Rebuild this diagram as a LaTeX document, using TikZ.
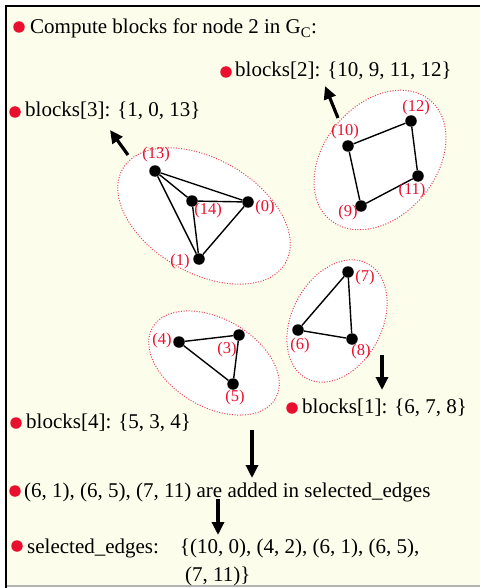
\documentclass[tikz,border=0pt]{standalone}
\usepackage{fontspec}
\setmainfont{Liberation Serif}
\usetikzlibrary{arrows.meta,shapes.geometric}
\definecolor{cfondo}{HTML}{FCFEEB}
\definecolor{crojo}{HTML}{E8102E}
\definecolor{cpunteo}{HTML}{E8405A}
\definecolor{cgris}{HTML}{B4B4B4}
\tikzset{
  grupo/.style={ellipse,draw=cpunteo,fill=white,line width=1pt,
                dash pattern=on 1pt off 1.6pt,inner sep=0pt},
  vertice/.style={circle,fill=black,inner sep=0pt,minimum size=11.5pt},
  arista/.style={line width=1.4pt,draw=black},
  etq/.style={text=crojo,font=\fontsize{16.5}{19}\selectfont,inner sep=0pt},
  vineta/.style={circle,fill=crojo,inner sep=0pt,minimum size=11.5pt},
  texto/.style={anchor=base west,inner sep=0pt,font=\fontsize{21}{25}\selectfont},
  flecha/.style={-{Triangle[length=13pt,width=12pt]},line width=3.2pt,draw=black},
}
\begin{document}
\begin{tikzpicture}[x=1pt,y=-1pt]

\useasboundingbox (0,0) rectangle (480,588);
\fill[white] (0,0) rectangle (480,588);
\fill[cfondo] (6,6) rectangle (480,585);
\draw[line width=2.5pt] (6,588) -- (6,6) -- (480,6);
\draw[cgris,line width=2pt] (7,586) -- (480,586);

\node[grupo,minimum width=188,minimum height=114,rotate=-30] (b3) at (204,216) {};
\node[grupo,minimum width=156,minimum height=112,rotate=50]  (b2) at (380,160) {};
\node[grupo,minimum width=130,minimum height=90,rotate=62]   (b1) at (337,321) {};
\node[grupo,minimum width=142,minimum height=88,rotate=-30]  (b4) at (214,363) {};

\node[vertice] (n13) at (155,171) {};
\node[vertice] (n14) at (192,201) {};
\node[vertice] (n0)  at (248,202) {};
\node[vertice] (n1)  at (199,259) {};
\node[vertice] (n10) at (348,146) {};
\node[vertice] (n12) at (411,121) {};
\node[vertice] (n11) at (418,176) {};
\node[vertice] (n9)  at (361,206) {};
\node[vertice] (n7)  at (348,272) {};
\node[vertice] (n6)  at (298,330) {};
\node[vertice] (n8)  at (352,339) {};
\node[vertice] (n4)  at (179,342) {};
\node[vertice] (n3)  at (239,335) {};
\node[vertice] (n5)  at (233,384) {};

\draw[arista] (n13) -- (n0);
\draw[arista] (n13) -- (n14);
\draw[arista] (n13) -- (n1);
\draw[arista] (n14) -- (n0);
\draw[arista] (n14) -- (n1);
\draw[arista] (n0) -- (n1);
\draw[arista] (n10) -- (n12);
\draw[arista] (n12) -- (n11);
\draw[arista] (n11) -- (n9);
\draw[arista] (n9) -- (n10);
\draw[arista] (n7) -- (n6);
\draw[arista] (n6) -- (n8);
\draw[arista] (n8) -- (n7);
\draw[arista] (n4) -- (n3);
\draw[arista] (n3) -- (n5);
\draw[arista] (n5) -- (n4);

\node[etq] (e13) at (156,155) {(13)};
\node[etq] (e14) at (208,211) {(14)};
\node[etq] (e0)  at (265,208) {(0)};
\node[etq] (e1)  at (180,262) {(1)};
\node[etq] (e10) at (345,132) {(10)};
\node[etq] (e12) at (416,108) {(12)};
\node[etq] (e11) at (412,191) {(11)};
\node[etq] (e9)  at (348,213) {(9)};
\node[etq] (e7)  at (365,278) {(7)};
\node[etq] (e6)  at (300,346) {(6)};
\node[etq] (e8)  at (361,352) {(8)};
\node[etq] (e4)  at (162,341) {(4)};
\node[etq] (e3)  at (227,350) {(3)};
\node[etq] (e5)  at (235,398) {(5)};

\node[vineta] (p0) at (19,27) {};
\node[texto]  (t0) at (30,34) {Compute blocks for node 2 in G\textsubscript{C}:};
\node[vineta] (p2) at (226,72) {};
\node[texto]  (t2) at (235,77) {blocks[2]: \{10, 9, 11, 12\}};
\node[vineta] (p3) at (15,112) {};
\node[texto]  (t3) at (25,117) {blocks[3]: \{1, 0, 13\}};
\node[vineta] (p1) at (292,408) {};
\node[texto]  (t1) at (302,413) {blocks[1]: \{6, 7, 8\}};
\node[vineta] (p4) at (16,423) {};
\node[texto]  (t4) at (26,428) {blocks[4]: \{5, 3, 4\}};
\node[vineta] (p5) at (15,491) {};
\node[texto]  (t5) at (24,497) {(6, 1), (6, 5), (7, 11) are added in selected\_edges};
\node[vineta] (p6) at (17,546) {};
\node[texto]  (t6) at (27,553) {selected\_edges:\quad\{(10, 0), (4, 2), (6, 1), (6, 5),};
\node[texto]  (t7) at (185,581) {(7, 11)\}};

\coordinate (s3) at (128,155);
\coordinate (d3) at (110,130);
\coordinate (s2) at (338,118);
\coordinate (d2) at (325,86);
\coordinate (s1) at (382,355);
\coordinate (d1) at (382,390);
\coordinate (s4) at (252,430);
\coordinate (d4) at (252,478);
\coordinate (s5) at (218,499);
\coordinate (d5) at (218,535);

\draw[flecha] (s3) -- (d3);
\draw[flecha] (s2) -- (d2);
\draw[flecha] (s1) -- (d1);
\draw[flecha] (s4) -- (d4);
\draw[flecha] (s5) -- (d5);

\end{tikzpicture}
\end{document}
